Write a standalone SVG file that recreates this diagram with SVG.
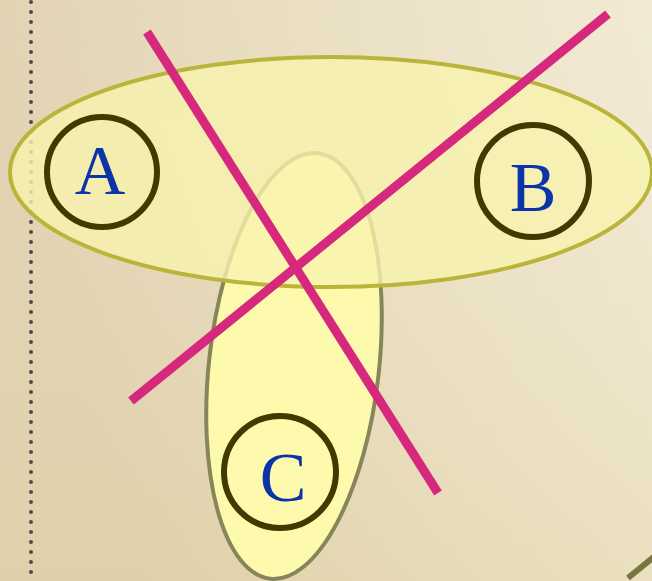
<svg xmlns="http://www.w3.org/2000/svg" width="652" height="581" viewBox="0 0 652 581">
<defs>
<linearGradient id="bg" x1="0" y1="0.3" x2="1" y2="0">
<stop offset="0" stop-color="#ddcca8"/>
<stop offset="0.5" stop-color="#e8dcbc"/>
<stop offset="1" stop-color="#f0e8d0"/>
</linearGradient>
<linearGradient id="bg2" x1="0" y1="0" x2="0" y2="1">
<stop offset="0" stop-color="#ffffff" stop-opacity="0.1"/>
<stop offset="1" stop-color="#e8dab0" stop-opacity="0.3"/>
</linearGradient>
</defs>
<style>
.node circle{fill:none;stroke:#3f3b00;stroke-width:6}
.lbl{font-family:"Liberation Serif","DejaVu Serif",serif;font-size:70px;fill:#0a34a8;text-anchor:middle}
.cross{stroke:#d6287c;stroke-width:9;stroke-linecap:butt}
</style>
<rect width="652" height="581" fill="url(#bg)"/>
<rect width="652" height="581" fill="url(#bg2)"/>
<line x1="31" y1="2" x2="31" y2="581" stroke="#4a4a4a" stroke-width="4" stroke-dasharray="0 10" stroke-linecap="round"/>
<g id="setC">
<ellipse cx="294" cy="366" rx="85" ry="214" transform="rotate(6.4 294 366)" fill="#fefaad" stroke="#86865a" stroke-width="4"/>
</g>
<g id="setAB">
<ellipse cx="331" cy="172" rx="321" ry="115" fill="#f8f2ae" fill-opacity="0.8" stroke="#bab53a" stroke-width="4"/>
</g>
<g id="A" class="node">
<circle cx="102" cy="172" r="55"/>
<text class="lbl" x="100" y="194">A</text>
</g>
<g id="B" class="node">
<circle cx="533" cy="181" r="56"/>
<text class="lbl" x="533" y="211">B</text>
</g>
<g id="C" class="node">
<circle cx="280" cy="472" r="56"/>
<text class="lbl" x="283" y="501">C</text>
</g>
<g id="connectors">
<line class="cross" x1="147" y1="32" x2="438" y2="493"/>
<line class="cross" x1="608" y1="14" x2="131" y2="401"/>
<line x1="628" y1="578" x2="655" y2="556" stroke="#76763e" stroke-width="6"/>
</g>
</svg>
